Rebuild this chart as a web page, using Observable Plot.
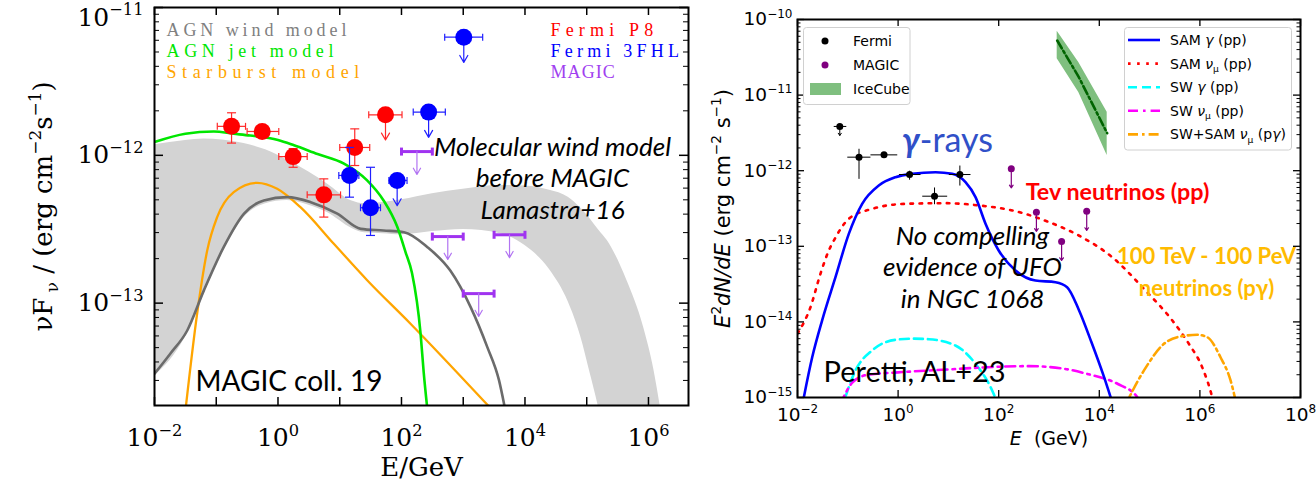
<!DOCTYPE html>
<html>
<head>
<meta charset="utf-8">
<script src="https://cdn.jsdelivr.net/npm/d3@7"></script>
<script src="https://cdn.jsdelivr.net/npm/@observablehq/plot@0.6"></script>
<style>
  html, body { margin: 0; padding: 0; background: #fff; }
  #wrap { position: relative; width: 1316px; height: 489px; overflow: hidden; background: #fff; }
  #left { position: absolute; left: 0; top: 0; width: 690px; height: 489px; }
  #right { position: absolute; left: 690px; top: 0; width: 626px; height: 489px; }
</style>
</head>
<body>
<div id="wrap"><div id="left"></div><div id="right"></div></div>
<script>
// ================= Left panel: NGC 1068 gamma-ray SED and models =================

// Molecular wind model band (Lamastra+16)
const bandE  = [0.01, 0.0316, 0.0631, 0.126, 0.282, 0.631, 1.41, 3.16, 6.31, 15.8, 25.1, 50.1, 100, 316, 1000, 3981, 10000, 25119, 50119, 79433, 114815, 158489, 213796, 446684, 831764, 1230269, 1584893];
const bandHi = [1.18e-12, 1.26e-12, 1.29e-12, 1.27e-12, 1.2e-12, 1.09e-12, 9.3e-13, 7.7e-13, 6.4e-13, 4.9e-13, 4.7e-13, 4.8e-13, 5.0e-13, 5.5e-13, 5.9e-13, 6.25e-13, 6.2e-13, 5.8e-13, 5.2e-13, 4.4e-13, 3.7e-13, 3.1e-13, 2.66e-13, 1.43e-13, 6.9e-14, 3.5e-14, 1.9e-14];
const bandLo = [3.2e-14, 5.9e-14, 1.15e-13, 2.2e-13, 3.8e-13, 4.7e-13, 4.95e-13, 4.6e-13, 4.1e-13, 3.2e-13, 2.99e-13, 2.95e-13, 2.9e-13, 3.05e-13, 3.15e-13, 2.95e-13, 2.45e-13, 1.68e-13, 1.02e-13, 6.0e-14, 3.3e-14, 1.9e-14, 1e-14, 1e-14, 1e-14, 1e-14, 1e-14];

// AGN wind model
const windE = [0.01, 0.018, 0.0339, 0.0631, 0.132, 0.282, 0.589, 1.41, 3.39, 9.12, 21.9, 51.3, 110, 263, 617, 1318, 2455, 3802, 4786];
const windF = [3.33e-14, 4.55e-14, 6.53e-14, 1.22e-13, 2.39e-13, 4.03e-13, 4.95e-13, 5.21e-13, 4.82e-13, 4.03e-13, 3.18e-13, 3.10e-13, 3.02e-13, 2.39e-13, 1.66e-13, 9.4e-14, 5.04e-14, 3.0e-14, 1.9e-14];

// AGN jet model
const jetE = [0.01, 0.0316, 0.0912, 0.191, 0.355, 1, 1.82, 4.37, 11.7, 27.5, 51.3, 85.1, 117, 148, 204, 229, 263];
const jetF = [1.23e-12, 1.40e-12, 1.45e-12, 1.40e-12, 1.36e-12, 1.27e-12, 1.17e-12, 1.02e-12, 8.8e-13, 6.8e-13, 4.95e-13, 3.3e-13, 2.2e-13, 1.6e-13, 6.2e-14, 3.4e-14, 1.9e-14];

// Starburst model
const sbE = [0.0318, 0.049, 0.0714, 0.1035, 0.192, 0.46, 0.97, 2.31, 8.02, 27.8, 140, 2760];
const sbF = [1.9e-14, 8.48e-14, 2.27e-13, 3.82e-13, 5.64e-13, 6.52e-13, 5.94e-13, 4.46e-13, 2.52e-13, 1.43e-13, 7.26e-14, 1.95e-14];

// Fermi P8 detections
const p8E   = [0.177, 0.555, 1.76, 5.52, 17.5];
const p8F   = [1.57e-12, 1.45e-12, 9.8e-13, 5.4e-13, 1.13e-12];
const p8ELo = [0.104, 0.316, 1.03, 2.97, 10];
const p8EHi = [0.298, 1.03, 2.97, 10.3, 30.6];
const p8FLo = [1.21e-12, 1.38e-12, 8.3e-13, 3.82e-13, 8.53e-13];
const p8FHi = [1.94e-12, 1.53e-12, 1.11e-12, 6.93e-13, 1.51e-12];
// Fermi P8 upper limit
const p8UlE = [55.1], p8UlF = [1.88e-12], p8UlELo = [29.5], p8UlEHi = [102];

// Fermi 3FHL detections
const fhlE   = [14.4, 31.5];
const fhlF   = [7.31e-13, 4.42e-13];
const fhlELo = [9.66, 21.7];
const fhlEHi = [20.4, 45.7];
const fhlFLo = [5.21e-13, 2.87e-13];
const fhlFHi = [1.13e-12, 8.3e-13];
// Fermi 3FHL upper limits
const fhlUlE   = [85.1, 275, 1021];
const fhlUlF   = [6.76e-13, 1.96e-12, 6.3e-12];
const fhlUlELo = [62.5, 155, 501];
const fhlUlEHi = [123, 513, 2065];

// MAGIC upper limits
const magicE   = [178, 562, 1780, 5620];
const magicF   = [1.06e-12, 2.82e-13, 1.16e-13, 2.9e-13];
const magicELo = [100, 316, 1000, 3160];
const magicEHi = [316, 1000, 3160, 10000];

const leftLegend       = ["AGN wind model", "AGN jet model", "Starburst model"];
const leftLegendColors = ["#808080", "#00e600", "#ffa500"];
const dataLegend       = ["Fermi P8", "Fermi 3FHL", "MAGIC"];
const dataLegendColors = ["#ff0000", "#0000ff", "#a040f0"];

const leftXTicks  = [1e-2, 1e-1, 1, 10, 100, 1e3, 1e4, 1e5, 1e6];
const leftXLabels = [1e-2, 1, 1e2, 1e4, 1e6];
const leftYMajor  = [1e-13, 1e-12, 1e-11];

// ================= Right panel: Peretti, AL+23 =================
const samGammaE = [0.0115, 0.0196, 0.0309, 0.0569, 0.1047, 0.193, 0.413, 0.887, 1.905, 5.55, 11.9, 21.9, 34.6, 54.7, 100, 216, 537, 1349, 2291, 3908, 6900, 12300, 20000];
const samGammaF = [6e-16, 3.41e-15, 1.05e-14, 3.9e-14, 1.46e-13, 3.65e-13, 6.37e-13, 8.2e-13, 9.1e-13, 9.55e-13, 9.1e-13, 7.05e-13, 4.47e-13, 1.99e-13, 8.8e-14, 4.78e-14, 3.53e-14, 3.35e-14, 2.88e-14, 1.45e-14, 5.5e-15, 1.9e-15, 7e-16];

const samNuE = [0.01, 0.0181, 0.0286, 0.0419, 0.0527, 0.1047, 0.305, 1.40, 8.75, 40.6, 186, 1000, 3908, 18030, 82800, 281000, 603000, 1.11e6, 1.76e6, 2.0e6];
const samNuF = [7.0e-15, 1.56e-14, 4.33e-14, 8.8e-14, 1.19e-13, 2.31e-13, 3.13e-13, 3.65e-13, 3.72e-13, 3.47e-13, 2.98e-13, 2.09e-13, 1.39e-13, 7.18e-14, 2.6e-14, 1.05e-14, 5.13e-15, 2.52e-15, 1.0e-15, 7e-16];

const swGammaE = [0.075, 0.142, 0.305, 0.887, 2.0, 4.07, 13.8, 34.6, 74.1, 105];
const swGammaF = [7e-16, 2.28e-15, 4.19e-15, 5.8e-15, 6.0e-15, 5.9e-15, 4.87e-15, 2.79e-15, 1.24e-15, 7e-16];

const swNuE = [0.07, 0.126, 0.251, 1, 10, 100, 398, 1995, 5754, 22900, 57500, 65000];
const swNuF = [8e-16, 1.6e-15, 2.0e-15, 2.15e-15, 2.35e-15, 2.55e-15, 2.6e-15, 2.4e-15, 2.05e-15, 1.52e-15, 1.0e-15, 8.5e-16];

const pgNuE = [30000, 77400, 193000, 355000, 887000, 1.40e6, 2.57e6, 4.07e6, 5.6e6];
const pgNuF = [7e-16, 2.28e-15, 5.13e-15, 6.28e-15, 6.75e-15, 6.28e-15, 3.41e-15, 1.68e-15, 7e-16];

const icE  = [1455, 3910, 14350];
const icF  = [5.27e-11, 1.73e-11, 3.13e-12];
const icLo = [3.02e-11, 1.08e-11, 1.59e-12];
const icHi = [7.0e-11, 2.7e-11, 5.94e-12];

const fermiE   = [0.0693, 0.167, 0.525, 1.69, 5.3, 16.9];
const fermiF   = [3.85e-12, 1.51e-12, 1.62e-12, 8.9e-13, 4.6e-13, 8.9e-13];
const fermiELo = [0.0525, 0.0977, 0.282, 1.04, 3.02, 10.2];
const fermiEHi = [0.0933, 0.282, 0.962, 2.79, 9.46, 27.5];
const fermiFLo = [null, 7.8e-13, 1.5e-12, 7.6e-13, 3.6e-13, 6.36e-13];
const fermiFHi = [null, 1.95e-12, 1.75e-12, 1.0e-12, 6.0e-13, 1.17e-12];
const fermiUpper = [true, false, false, false, false, false];

const rightXLabels = [1e-2, 1, 1e2, 1e4, 1e6, 1e8];
const rightYMajor  = [1e-15, 1e-14, 1e-13, 1e-12, 1e-11, 1e-10];

const modelLegend = [
  {label: "SAM /{γ} (pp)",          color: "#0000ff", dash: null},
  {label: "SAM /{ν}_{μ} (pp)",      color: "#ff0000", dash: "2.6,6.5"},
  {label: "SW /{γ} (pp)",           color: "#00ffff", dash: "9,5"},
  {label: "SW /{ν}_{μ} (pp)",       color: "#ff00ff", dash: "10,5,2.6,5"},
  {label: "SW+SAM /{ν}_{μ} (p/{γ})", color: "#ffa500", dash: "10,4,2.6,4"}
];
const obsLegend = [
  {label: "Fermi",   color: "#000000", kind: "dot"},
  {label: "MAGIC",   color: "#800080", kind: "dot"},
  {label: "IceCube", color: "#7fbf7f", kind: "patch"}
];

// ---------- helpers ----------
const zip = (keys, ...cols) => cols[0].map((_, i) => Object.fromEntries(keys.map((k, j) => [k, cols[j][i]])));
const expLabel = d => { const e = Math.round(Math.log10(d)); return `10^{${e < 0 ? "\u2212" + (-e) : e}}`; };
const minorTicks = (lo, hi) => {
  const out = [];
  for (let e = Math.floor(Math.log10(lo)); e < Math.ceil(Math.log10(hi)); e++)
    for (let k = 2; k <= 9; k++) { const v = k * 10 ** e; if (v >= lo && v <= hi) out.push(v); }
  return out;
};
// error-bar caps as custom dot symbols
const capV = {draw(ctx, size) { const r = Math.sqrt(size / Math.PI); ctx.moveTo(0, -r); ctx.lineTo(0, r); }};
const capH = {draw(ctx, size) { const r = Math.sqrt(size / Math.PI); ctx.moveTo(-r, 0); ctx.lineTo(r, 0); }};

function inwardTicks({xMajor = [], yMajor = [], yMinor = [], fw, fh, xLen, yLen, yMinLen, w}) {
  const s = {stroke: "black", strokeWidth: w};
  return [
    Plot.tickX(xMajor, {x: d => d, insetTop: fh - xLen, ...s}),
    Plot.tickX(xMajor, {x: d => d, insetBottom: fh - xLen, ...s}),
    Plot.tickY(yMajor, {y: d => d, insetRight: fw - yLen, ...s}),
    Plot.tickY(yMajor, {y: d => d, insetLeft: fw - yLen, ...s}),
    Plot.tickY(yMinor, {y: d => d, insetRight: fw - yMinLen, stroke: "black", strokeWidth: 1}),
    Plot.tickY(yMinor, {y: d => d, insetLeft: fw - yMinLen, stroke: "black", strokeWidth: 1})
  ];
}

// turns ^{..} sup, _{..} sub, *{..} bold italic, /{..} italic into tspans
const SVGNS = "http://www.w3.org/2000/svg";
function richify(root) {
  const leaves = [...root.querySelectorAll("text, tspan")]
    .filter(n => n.childElementCount === 0 && /[\^_*\/]\{/.test(n.textContent));
  for (const el of leaves) {
    const s = el.textContent;
    el.textContent = "";
    const re = /([\^_*\/])\{([^}]*)\}/g;
    const parts = [];
    let last = 0, m;
    while ((m = re.exec(s))) {
      if (m.index > last) parts.push({t: s.slice(last, m.index), op: ""});
      parts.push({t: m[2], op: m[1]});
      last = re.lastIndex;
    }
    if (last < s.length) parts.push({t: s.slice(last), op: ""});
    let base = 0;
    for (const p of parts) {
      const t = document.createElementNS(SVGNS, "tspan");
      let f = 1, off = 0;
      if (p.op === "^") { f = 0.65; off = -0.42; }
      else if (p.op === "_") { f = 0.65; off = 0.22; }
      else if (p.op === "*") { t.setAttribute("font-weight", "bold"); t.setAttribute("font-style", "italic"); }
      else if (p.op === "/") { t.setAttribute("font-style", "italic"); }
      if (f !== 1) t.setAttribute("font-size", `${f * 100}%`);
      const dy = off - base;
      if (Math.abs(dy) > 1e-9) t.setAttribute("dy", `${(dy / f).toFixed(3)}em`);
      base = off;
      t.textContent = p.t;
      el.appendChild(t);
    }
  }
}

// ---------- left panel ----------
const band  = zip(["E", "lo", "hi"], bandE, bandLo, bandHi);
const wind  = zip(["E", "F"], windE, windF);
const jet   = zip(["E", "F"], jetE, jetF);
const sb    = zip(["E", "F"], sbE, sbF);
const p8    = zip(["E", "F", "xlo", "xhi", "ylo", "yhi"], p8E, p8F, p8ELo, p8EHi, p8FLo, p8FHi);
const p8Ul  = zip(["E", "F", "xlo", "xhi"], p8UlE, p8UlF, p8UlELo, p8UlEHi);
const fhl   = zip(["E", "F", "xlo", "xhi", "ylo", "yhi"], fhlE, fhlF, fhlELo, fhlEHi, fhlFLo, fhlFHi);
const fhlUl = zip(["E", "F", "xlo", "xhi"], fhlUlE, fhlUlF, fhlUlELo, fhlUlEHi);
const magic = zip(["E", "F", "xlo", "xhi"], magicE, magicF, magicELo, magicEHi);

const L = {w: 690, h: 489, l: 154, r: 2, t: 7, b: 84};
const lfw = L.w - L.l - L.r, lfh = L.h - L.t - L.b;

function detections(data, dotColor, barColor) {
  const s = {stroke: barColor, strokeWidth: 1.2};
  return [
    Plot.link(data, {x1: "xlo", x2: "xhi", y1: "F", y2: "F", ...s}),
    Plot.link(data, {x1: "E", x2: "E", y1: "ylo", y2: "yhi", ...s}),
    Plot.dot(data, {x: "xlo", y: "F", symbol: capV, r: 3.5, fill: "none", ...s}),
    Plot.dot(data, {x: "xhi", y: "F", symbol: capV, r: 3.5, fill: "none", ...s}),
    Plot.dot(data, {x: "E", y: "ylo", symbol: capH, r: 4.5, fill: "none", ...s}),
    Plot.dot(data, {x: "E", y: "yhi", symbol: capH, r: 4.5, fill: "none", ...s}),
    Plot.dot(data, {x: "E", y: "F", r: 8.5, fill: dotColor, stroke: "none"})
  ];
}
function upperLimits(data, dotColor, barColor) {
  const s = {stroke: barColor, strokeWidth: 1.2};
  return [
    Plot.link(data, {x1: "xlo", x2: "xhi", y1: "F", y2: "F", ...s}),
    Plot.dot(data, {x: "xlo", y: "F", symbol: capV, r: 3.5, fill: "none", ...s}),
    Plot.dot(data, {x: "xhi", y: "F", symbol: capV, r: 3.5, fill: "none", ...s}),
    Plot.arrow(data, {x1: "E", y1: "F", x2: "E", y2: d => d.F * 0.675, headLength: 10, headAngle: 60, ...s}),
    Plot.dot(data, {x: "E", y: "F", r: 8.5, fill: dotColor, stroke: "none"})
  ];
}

const serifText = {fontFamily: "Liberation Serif", fontSize: 18, frameAnchor: "top-left", lineAnchor: "bottom"};
const serifTicks = {tickSize: 0, tickFormat: expLabel, fontSize: 25, fontFamily: "DejaVu Serif", label: null};

const svgL = Plot.plot({
  width: L.w, height: L.h,
  marginLeft: L.l, marginRight: L.r, marginTop: L.t, marginBottom: L.b,
  x: {type: "log", domain: [1e-2, 4.45e6]},
  y: {type: "log", domain: [2.03e-14, 1e-11]},
  style: {fontFamily: "DejaVu Serif", background: "white", overflow: "visible"},
  marks: [
    Plot.areaY(band, {x: "E", y1: "lo", y2: "hi", fill: "#d3d3d3", curve: "monotone-x", clip: true}),
    Plot.line(sb,   {x: "E", y: "F", stroke: "#ffa500", strokeWidth: 2.3, curve: "monotone-x", clip: true}),
    Plot.line(wind, {x: "E", y: "F", stroke: "#6b6b6b", strokeWidth: 2.6, curve: "monotone-x", clip: true}),
    Plot.line(jet,  {x: "E", y: "F", stroke: "#00e600", strokeWidth: 2.6, curve: "monotone-x", clip: true}),
    // MAGIC upper limits: energy bins with arrows
    Plot.link(magic, {x1: "xlo", x2: "xhi", y1: "F", y2: "F", stroke: "#a033f0", strokeWidth: 3}),
    Plot.dot(magic, {x: "xlo", y: "F", symbol: capV, r: 4, fill: "none", stroke: "#a033f0", strokeWidth: 3}),
    Plot.dot(magic, {x: "xhi", y: "F", symbol: capV, r: 4, fill: "none", stroke: "#a033f0", strokeWidth: 3}),
    Plot.arrow(magic, {x1: "E", y1: "F", x2: "E", y2: d => d.F * 0.7, stroke: "#b274f2", strokeWidth: 1.2, headLength: 9, headAngle: 60}),
    ...detections(p8, "#ff0000", "#ff2a2a"),
    ...upperLimits(p8Ul, "#ff0000", "#ff2a2a"),
    ...detections(fhl, "#0000ff", "#2020ff"),
    ...upperLimits(fhlUl, "#0000ff", "#2020ff"),
    Plot.frame({stroke: "black", strokeWidth: 2}),
    ...inwardTicks({xMajor: leftXTicks, yMajor: leftYMajor, yMinor: minorTicks(2.03e-14, 1e-11),
                    fw: lfw, fh: lfh, xLen: 8, yLen: 9, yMinLen: 5, w: 1.5}),
    Plot.axisX({ticks: leftXLabels, tickPadding: 23, ...serifTicks}),
    Plot.axisY({ticks: leftYMajor.slice(0, 2), tickPadding: 11, ...serifTicks}),
    // the top decade label sits just inside the canvas
    Plot.axisY({ticks: leftYMajor.slice(2), tickPadding: 11, dy: 10, ...serifTicks}),
    Plot.text(["E/GeV"], {frameAnchor: "bottom", dy: 62, lineAnchor: "middle", fontSize: 26, fontFamily: "DejaVu Serif", fill: "black"}),
    Plot.text(["\u03bdF_{ \u03bd} / (erg cm^{\u22122}s^{\u22121})"], {frameAnchor: "left", dx: -111, rotate: -90,
                lineAnchor: "middle", textAnchor: "middle", fontSize: 26, fontFamily: "DejaVu Serif", fill: "black"}),
    ...leftLegend.map((t, i) => Plot.text([t], {...serifText, dx: 12, dy: 28 + 21 * i, fill: leftLegendColors[i]})),
    ...dataLegend.map((t, i) => Plot.text([t], {...serifText, dx: 396, dy: 28 + 21 * i, fill: dataLegendColors[i]})),
    Plot.text(["Molecular wind model\nbefore MAGIC\nLamastra+16"], {frameAnchor: "top-left", dx: 398, dy: 170,
                textAnchor: "middle", lineAnchor: "middle", lineHeight: 1.2, fontFamily: "Lato", fontStyle: "italic", fontSize: 26, fill: "black"}),
    Plot.text(["MAGIC coll. 19"], {frameAnchor: "top-left", dx: 41, dy: 375, textAnchor: "start", lineAnchor: "middle",
                fontFamily: "Lato", fontSize: 28, fill: "black"})
  ]
});
// monospaced look of the IDL legend labels
svgL.querySelectorAll("text").forEach(t => {
  const s = t.textContent;
  if (leftLegend.includes(s) || dataLegend.includes(s)) {
    t.setAttribute("textLength", (s.length * 12.85).toFixed(1));
    t.setAttribute("lengthAdjust", "spacing");
  }
});
richify(svgL);
document.getElementById("left").appendChild(svgL);

// ---------- right panel ----------
const R = {w: 626, h: 489, l: 107, r: 16, t: 19, b: 92};
const rfw = R.w - R.l - R.r, rfh = R.h - R.t - R.b;

const samGamma = zip(["E", "F"], samGammaE, samGammaF);
const samNu    = zip(["E", "F"], samNuE, samNuF);
const swGamma  = zip(["E", "F"], swGammaE, swGammaF);
const swNu     = zip(["E", "F"], swNuE, swNuF);
const pgNu     = zip(["E", "F"], pgNuE, pgNuF);
const ice      = zip(["E", "F", "lo", "hi"], icE, icF, icLo, icHi);
const fermi    = zip(["E", "F", "xlo", "xhi", "ylo", "yhi", "ul"], fermiE, fermiF, fermiELo, fermiEHi, fermiFLo, fermiFHi, fermiUpper);
const magicR   = zip(["E", "F"], magicE, magicF);

const curve = (data, color, dash) => Plot.line(data, {x: "E", y: "F", stroke: color, strokeWidth: 2.6,
  strokeDasharray: dash, curve: "monotone-x", clip: true});

const sansTicks = {tickSize: 0, tickFormat: expLabel, fontSize: 18.5, fontFamily: "DejaVu Sans", label: null};

const svgR = Plot.plot({
  width: R.w, height: R.h,
  marginLeft: R.l, marginRight: R.r, marginTop: R.t, marginBottom: R.b,
  x: {type: "log", domain: [1e-2, 1e8]},
  y: {type: "log", domain: [1e-15, 1e-10]},
  style: {fontFamily: "DejaVu Sans", background: "white", overflow: "visible"},
  marks: [
    Plot.areaY(ice, {x: "E", y1: "lo", y2: "hi", fill: "#7fbf7f", clip: true}),
    Plot.line(ice, {x: "E", y: "F", stroke: "#006400", strokeWidth: 2.6, strokeDasharray: "9,3,2.5,3", clip: true}),
    curve(samNu, "#ff0000", "2.6,6.5"),
    curve(swGamma, "#00ffff", "9,5"),
    curve(swNu, "#ff00ff", "10,5,2.6,5"),
    curve(pgNu, "#ffa500", "10,4,2.6,4"),
    curve(samGamma, "#0000ff", null),
    // Fermi points
    Plot.link(fermi, {x1: "xlo", x2: "xhi", y1: "F", y2: "F", stroke: "black", strokeWidth: 1}),
    Plot.link(fermi.filter(d => !d.ul), {x1: "E", x2: "E", y1: "ylo", y2: "yhi", stroke: "black", strokeWidth: 1}),
    Plot.arrow(fermi.filter(d => d.ul), {x1: "E", y1: "F", x2: "E", y2: d => d.F * 0.76, stroke: "black", strokeWidth: 1, headLength: 4, headAngle: 70}),
    Plot.dot(fermi, {x: "E", y: "F", r: 3.5, fill: "black"}),
    // MAGIC upper limits
    Plot.arrow(magicR, {x1: "E", y1: "F", x2: "E", y2: d => d.F * 0.56, stroke: "#800080", strokeWidth: 1.2, headLength: 4, headAngle: 70}),
    Plot.dot(magicR, {x: "E", y: "F", r: 3.5, fill: "#800080"}),
    Plot.frame({stroke: "black", strokeWidth: 2}),
    ...inwardTicks({xMajor: rightXLabels, yMajor: rightYMajor, yMinor: minorTicks(1e-15, 1e-10),
                    fw: rfw, fh: rfh, xLen: 7, yLen: 7, yMinLen: 3.5, w: 1.3}),
    Plot.axisX({ticks: rightXLabels, tickPadding: 10, ...sansTicks}),
    Plot.axisY({ticks: rightYMajor, tickPadding: 5, ...sansTicks}),
    Plot.text(["/{E}\u00a0\u00a0(GeV)"], {frameAnchor: "bottom", dy: 41, lineAnchor: "middle", fontSize: 19, fontFamily: "DejaVu Sans", fill: "black"}),
    Plot.text(["/{E}^{2}/{dN/dE} (erg cm^{\u22122} s^{\u22121})"], {frameAnchor: "left", dx: -74, rotate: -90,
                lineAnchor: "middle", textAnchor: "middle", fontSize: 21, fontFamily: "DejaVu Sans", fill: "black"}),
    Plot.text(["*{\u03b3}-rays"], {frameAnchor: "top-left", dx: 150, dy: 122, textAnchor: "middle", lineAnchor: "middle",
                fontFamily: "Lato", fontSize: 34, fill: "#3050c8"}),
    Plot.text(["Tev neutrinos (pp)"], {frameAnchor: "top-left", dx: 320, dy: 173, textAnchor: "middle", lineAnchor: "middle",
                fontFamily: "Lato", fontWeight: "bold", fontSize: 23.3, fill: "#ff0000"}),
    Plot.text(["100 TeV - 100 PeV\nneutrinos (p\u03b3)"], {frameAnchor: "top-left", dx: 409, dy: 250, textAnchor: "middle", lineAnchor: "middle",
                lineHeight: 1.45, fontFamily: "Lato", fontWeight: "bold", fontSize: 22, fill: "#ffbb00"}),
    Plot.text(["No compelling\nevidence of UFO\nin NGC 1068"], {frameAnchor: "top-left", dx: 175, dy: 247, textAnchor: "middle", lineAnchor: "middle",
                lineHeight: 1.2, fontFamily: "Lato", fontStyle: "italic", fontSize: 26, fill: "black"}),
    Plot.text(["Peretti, AL+23"], {frameAnchor: "top-left", dx: 26, dy: 353, textAnchor: "start", lineAnchor: "middle",
                fontFamily: "Lato", fontSize: 29, fill: "black"})
  ]
});

// legends (boxed, matplotlib style)
{
  const g = d3.select(svgR).append("g").attr("font-family", "DejaVu Sans").attr("font-size", 14)
    .attr("fill", "black").attr("text-anchor", "start");
  g.append("rect").attr("x", 113.5).attr("y", 27.5).attr("width", 106.5).attr("height", 77)
    .attr("rx", 3).attr("fill", "white").attr("fill-opacity", 0.85).attr("stroke", "#d0d0d0");
  obsLegend.forEach((d, i) => {
    const y = 41 + 24 * i;
    if (d.kind === "dot") g.append("circle").attr("cx", 135).attr("cy", y).attr("r", 3.5).attr("fill", d.color);
    else g.append("rect").attr("x", 120).attr("y", y - 6).attr("width", 31).attr("height", 12).attr("fill", d.color);
    g.append("text").attr("x", 163).attr("y", y).attr("dy", "0.36em").text(d.label);
  });
  g.append("rect").attr("x", 434.5).attr("y", 27.5).attr("width", 167).attr("height", 122.5)
    .attr("rx", 3).attr("fill", "white").attr("fill-opacity", 0.85).attr("stroke", "#d0d0d0");
  modelLegend.forEach((d, i) => {
    const y = 40 + 23.6 * i;
    g.append("line").attr("x1", 438).attr("x2", 470).attr("y1", y).attr("y2", y)
      .attr("stroke", d.color).attr("stroke-width", 2.6).attr("stroke-dasharray", d.dash);
    g.append("text").attr("x", 480).attr("y", y).attr("dy", "0.36em").text(d.label);
  });
}
richify(svgR);
document.getElementById("right").appendChild(svgR);
</script>
</body>
</html>
